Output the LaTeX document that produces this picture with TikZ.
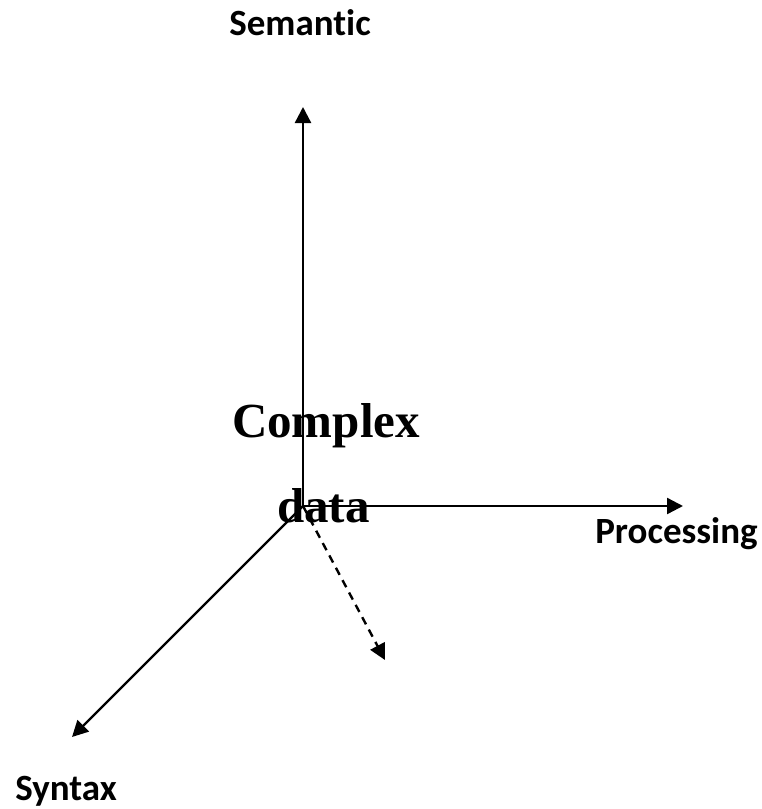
\documentclass[tikz,border=0pt]{standalone}
\usepackage{fontspec}
\setmainfont{Liberation Serif}
\newfontfamily\labelfont[Ligatures=NoCommon]{Carlito}
\usetikzlibrary{arrows.meta}
\tikzset{
  axis/.style={line width=2.4pt, -{Triangle[length=16pt,width=16pt]}},
  hidden axis/.style={axis, dash pattern=on 8pt off 6pt},
  axislabel/.style={anchor=base, inner sep=0pt, font=\labelfont\bfseries\fontsize{37}{40}\selectfont},
  centerlabel/.style={anchor=base, inner sep=0pt, font=\bfseries\fontsize{49}{52}\selectfont}
}
\begin{document}
\begin{tikzpicture}[x=1pt, y=-1pt]
  \useasboundingbox (0,0) rectangle (761,809);
  % origin and axis ends
  \coordinate (O) at (303,506);
  \coordinate (up) at (303,107);
  \coordinate (right) at (683,506);
  \coordinate (downleft) at (72,737);
  \coordinate (depth) at (385,660);
  % axes
  \draw[axis] (O) -- (up);
  \draw[axis] (O) -- (right);
  \draw[axis] (O) -- (downleft);
  \draw[hidden axis] (O) -- (depth);
  % axis labels
  \node[axislabel] (semantic) at (300,35) {Semantic};
  \node[axislabel] (processing) at (676.5,543) {Processing};
  \node[axislabel] (syntax) at (66,800) {Syntax};
  % centre label
  \node[centerlabel] (complex) at (326,437) {Complex};
  \node[centerlabel] (data) at (323.5,522) {data};
\end{tikzpicture}
\end{document}
